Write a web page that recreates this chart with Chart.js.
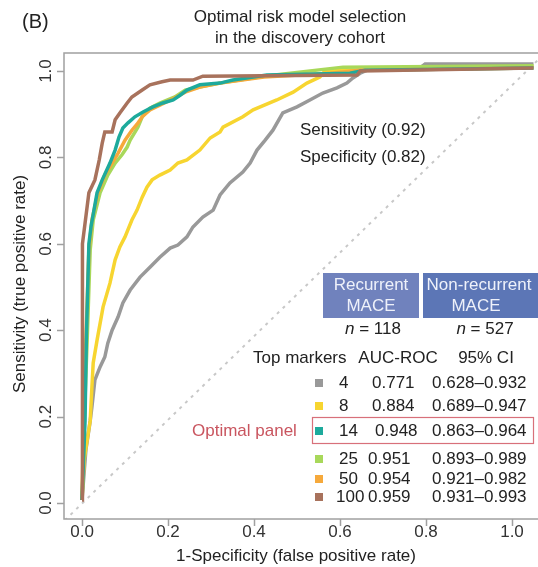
<!DOCTYPE html>
<html>
<head>
<meta charset="utf-8">
<script src="https://cdn.jsdelivr.net/npm/chart.js@4"></script>
<style>
  html, body { margin: 0; padding: 0; background: #fff; }
  #wrap { width: 538px; height: 567px; }
</style>
</head>
<body>
<div id="wrap"><canvas id="rocChart" width="538" height="567"></canvas></div>
<script>
// legend table
const markers = ["4", "8", "14", "25", "50", "100"];
const aucRoc = ["0.771", "0.884", "0.948", "0.951", "0.954", "0.959"];
const ci95 = ["0.628\u20130.932", "0.689\u20130.947", "0.863\u20130.964", "0.893\u20130.989", "0.921\u20130.982", "0.931\u20130.993"];
const colors = ["#999999", "#f7d530", "#1daa9c", "#a8d85a", "#f6a93b", "#a8725c"];
const xTicks = [0, 0.2, 0.4, 0.6, 0.8, 1.0];
const yTicks = [0, 0.2, 0.4, 0.6, 0.8, 1.0];

// ROC curves: false positive rate / true positive rate
const fpr4 = [0, 0.009, 0.019, 0.023, 0.03, 0.042, 0.053, 0.06, 0.07, 0.084, 0.095, 0.112, 0.135, 0.158, 0.181, 0.205, 0.223, 0.244, 0.258, 0.281, 0.305, 0.321, 0.344, 0.374, 0.391, 0.407, 0.426, 0.444, 0.467, 0.5, 0.53, 0.56, 0.593, 0.616, 0.63, 0.647, 0.663, 0.786, 0.798, 1.05];
const tpr4 = [0.007, 0.123, 0.19, 0.222, 0.285, 0.315, 0.338, 0.37, 0.4, 0.431, 0.463, 0.493, 0.523, 0.546, 0.569, 0.59, 0.597, 0.616, 0.639, 0.662, 0.678, 0.713, 0.741, 0.766, 0.787, 0.817, 0.84, 0.863, 0.903, 0.917, 0.933, 0.949, 0.961, 0.972, 0.984, 0.995, 1.002, 1.007, 1.016, 1.016];

const fpr8 = [0, 0.005, 0.012, 0.019, 0.023, 0.026, 0.035, 0.049, 0.065, 0.077, 0.088, 0.1, 0.116, 0.128, 0.14, 0.151, 0.163, 0.181, 0.205, 0.223, 0.244, 0.274, 0.298, 0.321, 0.328, 0.374, 0.398, 0.453, 0.491, 0.523, 0.553, 0.565, 1.05];
const tpr8 = [0.007, 0.10, 0.146, 0.19, 0.268, 0.324, 0.377, 0.454, 0.509, 0.563, 0.593, 0.616, 0.655, 0.678, 0.708, 0.731, 0.748, 0.759, 0.771, 0.787, 0.794, 0.817, 0.845, 0.859, 0.87, 0.894, 0.91, 0.933, 0.951, 0.972, 0.986, 1.0, 1.01];

const fpr14 = [0, 0.007, 0.01, 0.016, 0.021, 0.035, 0.047, 0.065, 0.077, 0.086, 0.095, 0.107, 0.123, 0.142, 0.165, 0.188, 0.212, 0.228, 0.244, 0.274, 0.321, 0.351, 0.43, 0.623, 0.658, 1.05];
const tpr14 = [0.007, 0.19, 0.377, 0.60, 0.64, 0.718, 0.748, 0.787, 0.817, 0.847, 0.868, 0.88, 0.894, 0.905, 0.917, 0.926, 0.933, 0.944, 0.956, 0.968, 0.972, 0.979, 0.991, 0.995, 1.002, 1.007];

const fpr25 = [0, 0.007, 0.012, 0.019, 0.026, 0.042, 0.06, 0.077, 0.093, 0.105, 0.112, 0.13, 0.14, 0.158, 0.181, 0.216, 0.24, 0.274, 0.321, 0.423, 0.607, 1.05];
const tpr25 = [0.007, 0.24, 0.377, 0.586, 0.655, 0.718, 0.759, 0.787, 0.806, 0.824, 0.84, 0.87, 0.894, 0.914, 0.926, 0.94, 0.956, 0.963, 0.972, 0.988, 1.009, 1.012];

const fpr50 = [0, 0.005, 0.009, 0.016, 0.023, 0.037, 0.053, 0.07, 0.084, 0.1, 0.116, 0.128, 0.14, 0.158, 0.181, 0.216, 0.24, 0.274, 0.321, 0.423, 0.577, 0.647, 1.05];
const tpr50 = [0.007, 0.24, 0.377, 0.586, 0.655, 0.718, 0.759, 0.787, 0.81, 0.84, 0.863, 0.877, 0.894, 0.91, 0.921, 0.938, 0.951, 0.963, 0.972, 0.986, 0.995, 1.002, 1.007];

const fpr100 = [0, 0, 0.002, 0.016, 0.03, 0.04, 0.047, 0.053, 0.07, 0.077, 0.088, 0.105, 0.116, 0.14, 0.158, 0.186, 0.205, 0.258, 0.281, 0.64, 0.647, 1.05];
const tpr100 = [0.007, 0.377, 0.60, 0.718, 0.748, 0.794, 0.833, 0.859, 0.859, 0.887, 0.903, 0.926, 0.94, 0.956, 0.968, 0.975, 0.979, 0.979, 0.988, 0.991, 1.0, 1.007];

// chance line
const diagX = [-0.04, 1.06];
const diagY = [-0.04, 1.025];

const curves = [[fpr4, tpr4], [fpr8, tpr8], [fpr14, tpr14], [fpr25, tpr25], [fpr50, tpr50], [fpr100, tpr100]];
const drawOrder = [5, 4, 1, 3, 2, 0]; // lower = on top (brown, teal highest)

const FONT = '"Liberation Sans", Arial, sans-serif';
const toPts = (xs, ys) => xs.map((x, i) => ({ x: x, y: ys[i] }));

const datasets = curves.map(([xs, ys], i) => ({
  label: markers[i],
  data: toPts(xs, ys),
  borderColor: colors[i],
  borderWidth: 3.5,
  showLine: true,
  pointRadius: 0,
  tension: 0,
  order: drawOrder[i],
}));
datasets.push({
  label: "chance",
  data: toPts(diagX, diagY),
  borderColor: "#c8c8c8",
  borderWidth: 2,
  borderDash: [3, 5],
  showLine: true,
  pointRadius: 0,
  order: 10,
});

function txt(ctx, s, x, y, opts) {
  opts = opts || {};
  ctx.save();
  ctx.font = (opts.style || "") + " " + (opts.size || 17) + "px " + FONT;
  ctx.fillStyle = opts.color || "#222";
  ctx.textAlign = opts.align || "left";
  ctx.textBaseline = "middle";
  if (opts.rotate) {
    ctx.translate(x, y);
    ctx.rotate(-Math.PI / 2);
    ctx.fillText(s, 0, 0);
  } else {
    ctx.fillText(s, x, y);
  }
  ctx.restore();
}

// n = ... with italic n, centred
function nLabel(ctx, num, cx, y) {
  ctx.save();
  ctx.font = "italic 17px " + FONT;
  const w1 = ctx.measureText("n").width;
  ctx.font = "17px " + FONT;
  const rest = " = " + num;
  const w2 = ctx.measureText(rest).width;
  const x0 = cx - (w1 + w2) / 2;
  ctx.restore();
  txt(ctx, "n", x0, y, { style: "italic" });
  txt(ctx, rest, x0 + w1, y);
}

const decor = {
  id: "decor",
  afterDraw(chart) {
    const ctx = chart.ctx;
    const a = chart.chartArea;
    const xs = chart.scales.x;
    const ys = chart.scales.y;

    // plot frame
    ctx.save();
    ctx.strokeStyle = "#a0a0a0";
    ctx.lineWidth = 1.5;
    ctx.strokeRect(a.left, a.top, a.right + 10 - a.left, a.bottom - a.top);

    // ticks
    ctx.beginPath();
    xTicks.forEach((v) => {
      const px = Math.round(xs.getPixelForValue(v)) + 0.5;
      ctx.moveTo(px, a.bottom);
      ctx.lineTo(px, a.bottom + 7);
    });
    yTicks.forEach((v) => {
      const py = Math.round(ys.getPixelForValue(v)) + 0.5;
      ctx.moveTo(a.left, py);
      ctx.lineTo(a.left - 7, py);
    });
    ctx.stroke();
    ctx.restore();

    xTicks.forEach((v) => txt(ctx, v.toFixed(1), xs.getPixelForValue(v), 532, { align: "center", color: "#333" }));
    yTicks.forEach((v) => txt(ctx, v.toFixed(1), 46, ys.getPixelForValue(v), { align: "center", color: "#333", rotate: true }));

    // titles
    txt(ctx, "(B)", 22, 22, { size: 20 });
    txt(ctx, "Optimal risk model selection", 300, 17, { align: "center" });
    txt(ctx, "in the discovery cohort", 300, 38, { align: "center" });
    txt(ctx, "1-Specificity (false positive rate)", 296, 556, { align: "center" });
    txt(ctx, "Sensitivity (true positive rate)", 20, 284, { align: "center", rotate: true });

    txt(ctx, "Sensitivity (0.92)", 300, 130);
    txt(ctx, "Specificity (0.82)", 300, 157);

    // group header boxes
    ctx.save();
    ctx.fillStyle = "#7082bd";
    ctx.fillRect(323, 273, 96, 45);
    ctx.fillStyle = "#5c76b6";
    ctx.fillRect(423, 273, 120, 45);
    ctx.restore();
    txt(ctx, "Recurrent", 371, 285, { align: "center", color: "#eef1fa" });
    txt(ctx, "MACE", 371, 306, { align: "center", color: "#eef1fa" });
    txt(ctx, "Non-recurrent", 479, 285, { align: "center", color: "#eef1fa" });
    txt(ctx, "MACE", 476, 306, { align: "center", color: "#eef1fa" });
    nLabel(ctx, "118", 373, 329);
    nLabel(ctx, "527", 485, 329);

    // table
    txt(ctx, "Top markers", 253, 358);
    txt(ctx, "AUC-ROC", 398, 358, { align: "center" });
    txt(ctx, "95% CI", 486, 358, { align: "center" });
    const rowY = [383, 406, 431, 459, 479, 497];
    const aucX = [372, 372, 375, 368, 368, 368];
    rowY.forEach((y, i) => {
      ctx.save();
      ctx.fillStyle = colors[i];
      ctx.fillRect(315, y - 4, 8, 8);
      ctx.restore();
      txt(ctx, markers[i], i === 5 ? 336 : 339, y);
      txt(ctx, aucRoc[i], aucX[i], y);
      txt(ctx, ci95[i], 432, y);
    });

    // highlight of the optimal panel
    ctx.save();
    ctx.strokeStyle = "#d8707a";
    ctx.lineWidth = 1.2;
    ctx.strokeRect(312.5, 417.5, 221, 26);
    ctx.restore();
    txt(ctx, "Optimal panel", 192, 431, { color: "#c9555f" });
  },
};

new Chart(document.getElementById("rocChart"), {
  type: "scatter",
  data: { datasets },
  options: {
    responsive: false,
    animation: false,
    devicePixelRatio: 1,
    layout: { padding: { left: 64, top: 53, right: 0, bottom: 48 } },
    scales: {
      x: { type: "linear", display: false, min: -0.0419, max: 1.0605 },
      y: { type: "linear", display: false, min: -0.037, max: 1.0417 },
    },
    plugins: { legend: { display: false }, tooltip: { enabled: false } },
  },
  plugins: [decor],
});
</script>
</body>
</html>
